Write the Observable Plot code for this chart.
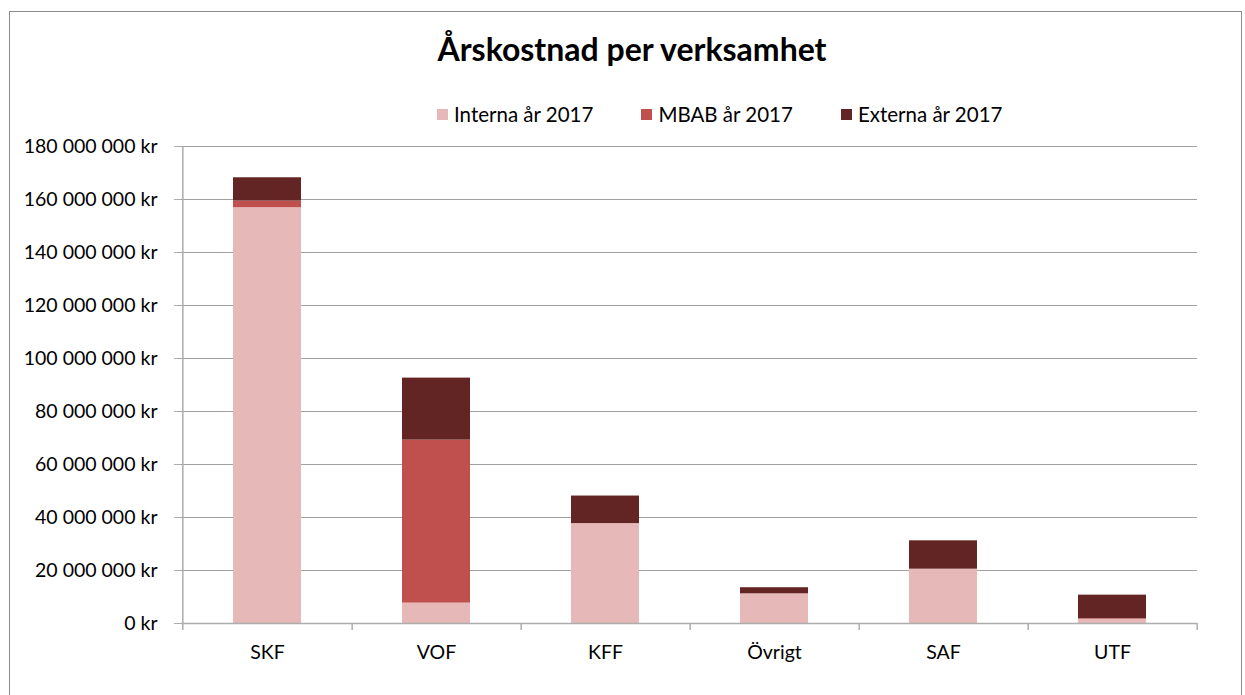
<!DOCTYPE html>
<html><head><meta charset="utf-8">
<script src="https://cdn.jsdelivr.net/npm/d3@7"></script>
<script src="https://cdn.jsdelivr.net/npm/@observablehq/plot@0.6"></script>
<style>
body{margin:0;background:#fff;font-family:Lato,"Open Sans",sans-serif;}
#wrap{position:relative;width:1245px;height:695px;overflow:hidden;}
#frame{position:absolute;left:9px;top:11px;width:1233px;height:720px;border:1.5px solid #8c8c8c;box-sizing:border-box;}
#chart{position:absolute;left:0;top:0;}
#title{position:absolute;left:0;width:1264px;top:29px;text-align:center;font-weight:bold;font-size:32px;color:#000;}
#legend{position:absolute;left:437px;top:102px;display:flex;align-items:center;font-size:20.5px;color:#000;}
#legend .item{display:flex;align-items:center;margin-right:48px;}
#legend .sw{width:11px;height:11px;margin-right:6px;}
</style>
</head><body>
<div id="wrap">
  <div id="frame"></div>
  <div id="chart"></div>
  <div id="title">Årskostnad per verksamhet</div>
  <div id="legend"></div>
</div>
<script>
const categories = ["SKF", "VOF", "KFF", "Övrigt", "SAF", "UTF"];
const series = ["Interna år 2017", "MBAB år 2017", "Externa år 2017"];
const interna = [156900000, 7700000, 37700000, 11200000, 20500000, 1600000];
const mbab    = [2500000, 61500000, 0, 0, 0, 200000];
const externa = [8800000, 23400000, 10400000, 2300000, 10700000, 8900000];
const colors = ["#E6B9B8", "#C0504D", "#632523"];
const yTicks = [0, 20000000, 40000000, 60000000, 80000000, 100000000, 120000000, 140000000, 160000000, 180000000];

const rows = [];
[interna, mbab, externa].forEach((vals, si) =>
  vals.forEach((v, ci) => rows.push({cat: categories[ci], series: series[si], value: v})));

const fmt = d => d3.format(",")(d).replace(/,/g, " ") + " kr";

const W = 1245, H = 695, mL = 181, mR = 48, mT = 146, mB = 72;
const step = (W - mL - mR) / categories.length;
const axisColor = "#ADADAD";

const chart = Plot.plot({
  width: W, height: H,
  marginLeft: mL, marginRight: mR, marginTop: mT, marginBottom: mB,
  style: {fontFamily: "Lato, 'Open Sans', sans-serif", fontSize: "19.5px", color: "#000", background: "transparent"},
  x: {domain: categories, paddingInner: 0.6, paddingOuter: 0.3, label: null},
  y: {domain: [0, 180000000], label: null},
  color: {domain: series, range: colors},
  marks: [
    Plot.gridY(yTicks, {stroke: "#A0A0A0", strokeOpacity: 1, strokeWidth: 1.2}),
    Plot.barY(rows, {x: "cat", y: "value", fill: "series"}),
    Plot.ruleY([0], {stroke: axisColor, strokeWidth: 1.5}),
    Plot.ruleX([categories[0]], {x: d => d, dx: -step / 2, stroke: axisColor, strokeWidth: 1.5, insetBottom: -7}),
    Plot.ruleX(categories, {x: d => d, y1: 0, y2: 0, dx: step / 2, stroke: axisColor, strokeWidth: 1.5, insetBottom: -7}),
    Plot.axisY(yTicks, {tickFormat: fmt, tickSize: 7, tickPadding: 17, stroke: axisColor, fill: "#000"}),
    Plot.axisX({tickSize: 0, tickPadding: 22, fill: "#000"})
  ]
});
document.getElementById("chart").appendChild(chart);

const legend = document.getElementById("legend");
series.forEach((s, i) => {
  const item = document.createElement("div");
  item.className = "item";
  const sw = document.createElement("div");
  sw.className = "sw";
  sw.style.background = colors[i];
  const t = document.createElement("span");
  t.textContent = s;
  item.appendChild(sw);
  item.appendChild(t);
  legend.appendChild(item);
});
</script>
</body></html>
